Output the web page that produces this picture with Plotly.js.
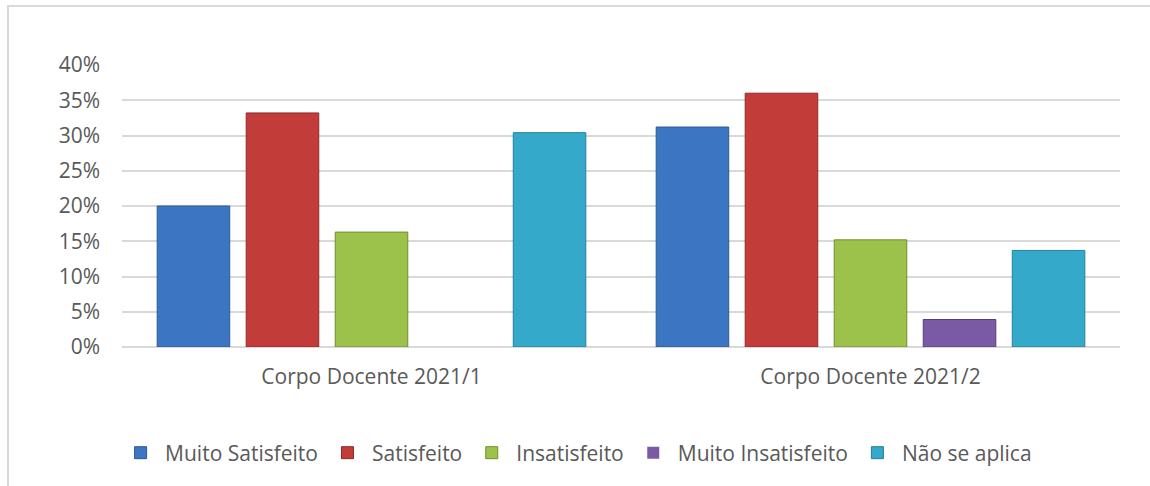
<!DOCTYPE html>
<html>
<head>
<meta charset="utf-8">
<script src="https://cdn.plot.ly/plotly-3.0.1.min.js"></script>
<style>
html,body{margin:0;padding:0;background:#fff;width:1150px;height:486px;overflow:hidden;}
#frame{position:absolute;left:7px;top:5px;width:1200px;height:600px;border-left:2px solid #d9d9d9;border-top:2px solid #d9d9d9;}
#chart{position:absolute;left:0;top:0;width:1150px;height:486px;}
</style>
</head>
<body>
<div id="frame"></div>
<div id="chart"></div>
<script>
const categories = ["Corpo Docente 2021/1", "Corpo Docente 2021/2"];
const seriesNames = ["Muito Satisfeito", "Satisfeito", "Insatisfeito", "Muito Insatisfeito", "Não se aplica"];
const muitoSatisfeito = [0.200, 0.312];
const satisfeito = [0.332, 0.360];
const insatisfeito = [0.163, 0.152];
const muitoInsatisfeito = [0.000, 0.039];
const naoSeAplica = [0.304, 0.137];
const yTicks = [0, 0.05, 0.10, 0.15, 0.20, 0.25, 0.30, 0.35, 0.40];

const seriesValues = [muitoSatisfeito, satisfeito, insatisfeito, muitoInsatisfeito, naoSeAplica];
const fills = ["#3c76c2", "#c23c39", "#9cc24b", "#7a5aa5", "#34a9c9"];
const edges = ["#2b5a96", "#8e2a28", "#6f8f2f", "#553c7a", "#23809a"];

const traces = seriesNames.map((name, i) => ({
  type: "bar",
  name: name,
  x: categories,
  y: seriesValues[i],
  marker: {color: fills[i],
           line: {color: edges[i], width: seriesValues[i].map(v => v > 0 ? 1 : 0)}},
  hoverinfo: "none"
}));

const font = {family: "Open Sans, sans-serif", size: 21, color: "#595959"};

const layout = {
  width: 1150, height: 486,
  margin: {l: 122, r: 30, t: 65, b: 139},
  paper_bgcolor: "rgba(0,0,0,0)",
  plot_bgcolor: "rgba(0,0,0,0)",
  barmode: "group",
  bargap: 0.108,
  bargroupgap: 0.185,
  font: font,
  showlegend: true,
  legend: {orientation: "h", x: 0.4555, xanchor: "center", y: -0.376, yanchor: "middle",
           font: font, itemwidth: 39, tracegroupgap: 0},
  xaxis: {type: "category", showgrid: false, showline: false, ticks: "", zeroline: false,
          tickfont: font, ticklabelstandoff: 15},
  yaxis: {range: [0, 0.4], tickvals: yTicks, tickformat: ".0%", showgrid: true,
          gridcolor: "#d9d9d9", gridwidth: 2, zeroline: true, zerolinecolor: "#d9d9d9",
          zerolinewidth: 2, showline: false, ticks: "", tickfont: font, ticklabelstandoff: 21}
};

Plotly.newPlot("chart", traces, layout, {displayModeBar: false, staticPlot: true});
</script>
</body>
</html>
